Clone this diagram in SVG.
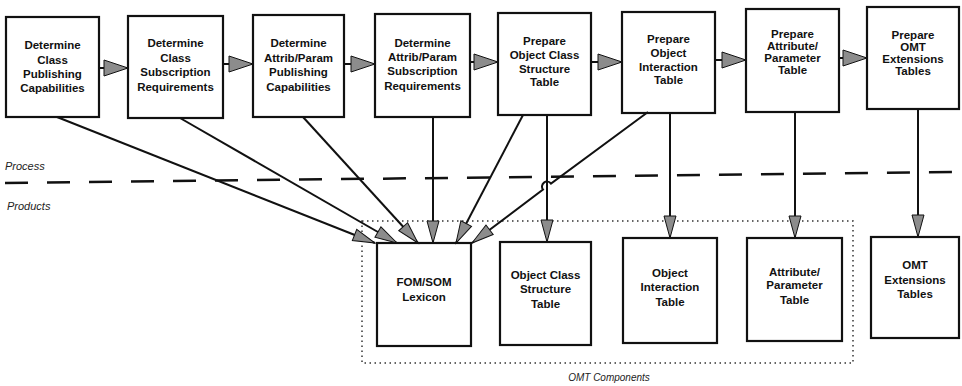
<svg xmlns="http://www.w3.org/2000/svg" width="962" height="386" viewBox="0 0 962 386">
  <style>
    .box { fill: #ffffff; stroke: #111111; stroke-width: 2.2; }
    .lbl { font-family: "Liberation Sans", Arial, sans-serif; font-size: 11.5px; font-weight: bold; fill: #111111; text-anchor: middle; }
    .side { font-family: "Liberation Sans", Arial, sans-serif; font-style: italic; fill: #222222; }
    .conn { fill: none; stroke: #111111; stroke-width: 2; }
    .flow { stroke: #111111; stroke-width: 2; }
    .head { fill: #8c8c8c; stroke: #111111; stroke-width: 1; }
  </style>
  <defs>
    <marker id="arrow-down" markerUnits="userSpaceOnUse" markerWidth="24" markerHeight="14" refX="22" refY="7" orient="auto" overflow="visible">
      <path class="head" d="M0,1 L22,7 L0,13 Z"/>
    </marker>
    <marker id="arrow-right" markerUnits="userSpaceOnUse" markerWidth="26" markerHeight="16" refX="24" refY="8" orient="auto" overflow="visible">
      <path class="head" d="M0,0 L24,8 L0,16 Z"/>
    </marker>
  </defs>

  <rect width="962" height="386" fill="#ffffff"/>

  <!-- process / products divider -->
  <line x1="5" y1="183" x2="958" y2="172" stroke="#111111" stroke-width="2.5" stroke-dasharray="23 19"/>
  <text class="side" x="5" y="170" font-size="11">Process</text>
  <text class="side" x="7" y="210" font-size="11">Products</text>

  <!-- OMT component grouping -->
  <rect x="362" y="221" width="491" height="142" fill="none" stroke="#333333" stroke-width="1.5" stroke-dasharray="1.5 3.5"/>
  <text class="side" x="609" y="381" font-size="10" text-anchor="middle">OMT Components</text>

  <!-- process steps -->
  <g id="step-class-publishing">
    <rect class="box" x="6" y="17" width="93" height="100"/>
    <text class="lbl"><tspan x="52.5" y="49">Determine</tspan><tspan x="52.5" y="64">Class</tspan><tspan x="52.5" y="78">Publishing</tspan><tspan x="52.5" y="92">Capabilities</tspan></text>
  </g>
  <g id="step-class-subscription">
    <rect class="box" x="128" y="16" width="95" height="102"/>
    <text class="lbl"><tspan x="175.5" y="47">Determine</tspan><tspan x="175.5" y="62">Class</tspan><tspan x="175.5" y="76">Subscription</tspan><tspan x="175.5" y="91">Requirements</tspan></text>
  </g>
  <g id="step-attrib-publishing">
    <rect class="box" x="253" y="15" width="91" height="102"/>
    <text class="lbl"><tspan x="298.5" y="47">Determine</tspan><tspan x="298.5" y="62">Attrib/Param</tspan><tspan x="298.5" y="76">Publishing</tspan><tspan x="298.5" y="91">Capabilities</tspan></text>
  </g>
  <g id="step-attrib-subscription">
    <rect class="box" x="375" y="14" width="95" height="103"/>
    <text class="lbl"><tspan x="422.5" y="47">Determine</tspan><tspan x="422.5" y="61">Attrib/Param</tspan><tspan x="422.5" y="75">Subscription</tspan><tspan x="422.5" y="90">Requirements</tspan></text>
  </g>
  <g id="step-object-class">
    <rect class="box" x="498" y="13" width="93" height="102"/>
    <text class="lbl"><tspan x="544.5" y="45">Prepare</tspan><tspan x="544.5" y="59">Object Class</tspan><tspan x="544.5" y="73">Structure</tspan><tspan x="544.5" y="86">Table</tspan></text>
  </g>
  <g id="step-object-interaction">
    <rect class="box" x="622" y="12" width="93" height="101"/>
    <text class="lbl"><tspan x="668.5" y="43">Prepare</tspan><tspan x="668.5" y="57">Object</tspan><tspan x="668.5" y="71">Interaction</tspan><tspan x="668.5" y="84">Table</tspan></text>
  </g>
  <g id="step-attribute-parameter">
    <rect class="box" x="746" y="9" width="93" height="103"/>
    <text class="lbl"><tspan x="792.5" y="38">Prepare</tspan><tspan x="792.5" y="50">Attribute/</tspan><tspan x="792.5" y="62">Parameter</tspan><tspan x="792.5" y="74">Table</tspan></text>
  </g>
  <g id="step-omt-extensions">
    <rect class="box" x="867" y="7" width="92" height="102"/>
    <text class="lbl"><tspan x="913" y="39">Prepare</tspan><tspan x="913" y="51">OMT</tspan><tspan x="913" y="63">Extensions</tspan><tspan x="913" y="75">Tables</tspan></text>
  </g>

  <!-- products -->
  <g id="product-lexicon">
    <rect class="box" x="377" y="243" width="94" height="103"/>
    <text class="lbl"><tspan x="424" y="286">FOM/SOM</tspan><tspan x="424" y="301">Lexicon</tspan></text>
  </g>
  <g id="product-object-class">
    <rect class="box" x="500" y="242" width="91" height="103"/>
    <text class="lbl"><tspan x="545.5" y="279">Object Class</tspan><tspan x="545.5" y="293">Structure</tspan><tspan x="545.5" y="308">Table</tspan></text>
  </g>
  <g id="product-object-interaction">
    <rect class="box" x="623" y="238" width="94" height="105"/>
    <text class="lbl"><tspan x="670" y="277">Object</tspan><tspan x="670" y="291">Interaction</tspan><tspan x="670" y="306">Table</tspan></text>
  </g>
  <g id="product-attribute-parameter">
    <rect class="box" x="747" y="238" width="95" height="103"/>
    <text class="lbl"><tspan x="794.5" y="276">Attribute/</tspan><tspan x="794.5" y="289">Parameter</tspan><tspan x="794.5" y="304">Table</tspan></text>
  </g>
  <g id="product-omt-extensions">
    <rect class="box" x="871" y="237" width="88" height="101"/>
    <text class="lbl"><tspan x="915" y="269">OMT</tspan><tspan x="915" y="284">Extensions</tspan><tspan x="915" y="298">Tables</tspan></text>
  </g>

  <!-- connectors -->
  <g id="connectors">
    <!-- step sequence -->
    <line class="flow" x1="99" y1="68" x2="128" y2="68" marker-end="url(#arrow-right)"/>
    <line class="flow" x1="223" y1="64" x2="253" y2="64" marker-end="url(#arrow-right)"/>
    <line class="flow" x1="344" y1="64" x2="375" y2="64" marker-end="url(#arrow-right)"/>
    <line class="flow" x1="470" y1="62" x2="498" y2="62" marker-end="url(#arrow-right)"/>
    <line class="flow" x1="591" y1="62" x2="622" y2="62" marker-end="url(#arrow-right)"/>
    <line class="flow" x1="715" y1="60" x2="746" y2="60" marker-end="url(#arrow-right)"/>
    <line class="flow" x1="839" y1="58" x2="867" y2="58" marker-end="url(#arrow-right)"/>

    <!-- steps feeding the lexicon -->
    <line class="conn" x1="57" y1="117" x2="375" y2="243" marker-end="url(#arrow-down)"/>
    <line class="conn" x1="180" y1="118" x2="397" y2="243" marker-end="url(#arrow-down)"/>
    <line class="conn" x1="303" y1="117" x2="418" y2="243" marker-end="url(#arrow-down)"/>
    <line class="conn" x1="433" y1="117" x2="433" y2="243" marker-end="url(#arrow-down)"/>
    <line class="conn" x1="523" y1="115" x2="456" y2="243" marker-end="url(#arrow-down)"/>
    <path class="conn" d="M648,112 L551,183.6 A5,5 0 0 0 543,189.6 L472,243" marker-end="url(#arrow-down)"/>

    <!-- steps producing their tables -->
    <line class="conn" x1="547" y1="115" x2="547" y2="242" marker-end="url(#arrow-down)"/>
    <line class="conn" x1="670" y1="113" x2="670" y2="238" marker-end="url(#arrow-down)"/>
    <line class="conn" x1="795" y1="112" x2="795" y2="238" marker-end="url(#arrow-down)"/>
    <line class="conn" x1="918" y1="109" x2="918" y2="237" marker-end="url(#arrow-down)"/>
  </g>
</svg>
